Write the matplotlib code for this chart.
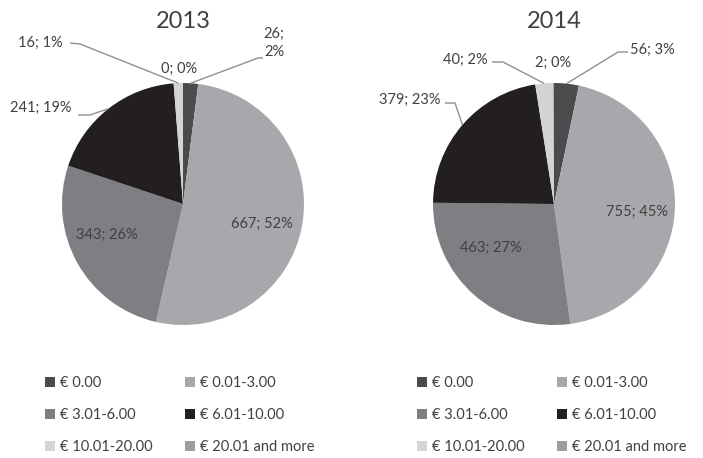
import numpy as np
import matplotlib.pyplot as plt

# Data
categories = ['€ 0.00', '€ 0.01-3.00', '€ 3.01-6.00', '€ 6.01-10.00',
              '€ 10.01-20.00', '€ 20.01 and more']
values_2013 = [26, 667, 343, 241, 16, 0]
pct_2013 = [2, 52, 26, 19, 1, 0]
values_2014 = [56, 755, 463, 379, 40, 2]
pct_2014 = [3, 45, 27, 23, 2, 0]

colors = ['#4b4b4d', '#a7a8ab', '#7e7f82', '#231f20', '#d3d4d6', '#9d9ea1']
text_col = '#404040'
line_col = '#8f8f8f'

plt.rcParams['font.family'] = ['Lato', 'DejaVu Sans']

W, H = 703, 458
fig = plt.figure(figsize=(W / 100, H / 100), dpi=100)

R = 121.0   # pie radius in px
L = 1.5     # axis half range in radius units


def pie_axes(cx, cy):
    half = L * R
    return fig.add_axes([(cx - half) / W, (H - cy - half) / H, 2 * half / W, 2 * half / H])


def px(cx, cy, x, y):
    return ((x - cx) / R, (cy - y) / R)


# label placement (pixel positions) and leader lines (start, elbow) per slice
setups = [
    dict(title='2013', cx=183, cy=204, values=values_2013, pct=pct_2013,
         pos=[(274, 43), (262, 224), (107, 235), (41, 108), (40, 43), (179, 69)],
         split=[True, False, False, False, False, False],
         lead=[((263, 58), (258, 58)), None, None,
               ((78, 115), (90, 115)), ((70, 43), (80, 44)), None],
         leg_x=45),
    dict(title='2014', cx=554, cy=204, values=values_2014, pct=pct_2014,
         pos=[(652, 50), (637, 212), (491, 248), (410, 100), (465, 60), (553, 63)],
         split=[False] * 6,
         lead=[((628, 52), (618, 52)), None, None,
               ((445, 103), (455, 103)), ((492, 62), (503, 62)), None],
         leg_x=417),
]

# legend fills column by column; reorder so it reads row by row
leg_order = [0, 2, 4, 1, 3, 5]

for s in setups:
    ax = pie_axes(s['cx'], s['cy'])
    wedges, _ = ax.pie(s['values'], colors=colors, startangle=90, counterclock=False,
                       radius=1, wedgeprops=dict(linewidth=0))
    ax.set_xlim(-L, L)
    ax.set_ylim(-L, L)
    ax.set_aspect('equal')
    ax.axis('off')

    ax.text(0, 1.51, s['title'], ha='center', va='center', fontsize=17, color=text_col)

    total = sum(s['values'])
    cum = np.cumsum([0] + s['values'])
    for i, v in enumerate(s['values']):
        sep = '\n' if s['split'][i] else ' '
        lab = f"{v};{sep}{s['pct'][i]}%"
        tx, ty = px(s['cx'], s['cy'], *s['pos'][i])
        ax.text(tx, ty, lab, ha='center', va='center', fontsize=10.5,
                color=text_col, linespacing=1.45, clip_on=False)
        if s['lead'][i] is not None:
            mid = (cum[i] + cum[i + 1]) / 2 / total
            ang = 2 * np.pi * mid
            wx, wy = np.sin(ang), np.cos(ang)
            p0 = px(s['cx'], s['cy'], *s['lead'][i][0])
            p1 = px(s['cx'], s['cy'], *s['lead'][i][1])
            ax.plot([p0[0], p1[0], wx], [p0[1], p1[1], wy], color=line_col,
                    lw=1, clip_on=False, solid_capstyle='butt')

    fig.legend([wedges[k] for k in leg_order], [categories[k] for k in leg_order],
               ncol=2, loc='upper left',
               bbox_to_anchor=(s['leg_x'] / W, 1 - 376 / H),
               frameon=False, fontsize=10.5, handlelength=0.68, handleheight=0.68,
               handletextpad=0.35, columnspacing=2.2, labelspacing=1.25,
               labelcolor=text_col, borderaxespad=0, borderpad=0)

fig.savefig('out.png', dpi=100)
